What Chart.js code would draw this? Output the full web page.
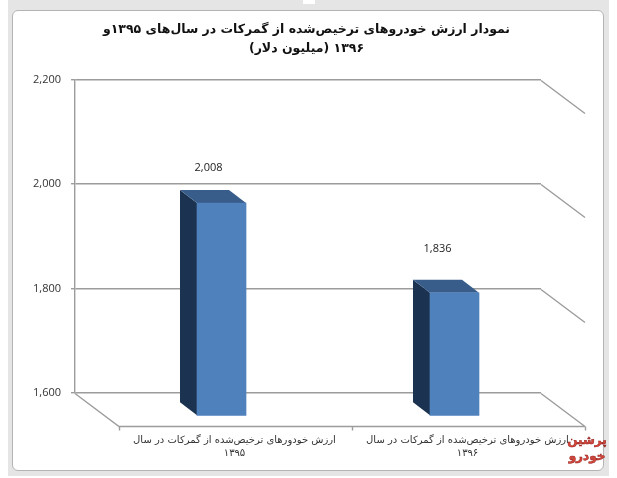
<!DOCTYPE html>
<html lang="fa">
<head>
<meta charset="utf-8">
<title>نمودار ارزش خودروها</title>
<script src="https://cdn.jsdelivr.net/npm/chart.js@4/dist/chart.umd.min.js"></script>
<style>
  html,body{margin:0;padding:0;background:#fff;}
  .stage{position:relative;width:617px;height:478px;overflow:hidden;}
  .back{position:absolute;left:8px;top:0;width:601px;height:476px;background:#e5e5e5;}
  .notch{position:absolute;left:303px;top:0;width:12px;height:4px;background:#fff;}
  .panel{position:absolute;left:12px;top:10px;width:590px;height:459px;background:#fff;border:1px solid #b4b4b4;border-radius:6px;}
  canvas{position:absolute;left:0;top:0;}
</style>
</head>
<body>
<div class="stage">
  <div class="back"></div>
  <div class="notch"></div>
  <div class="panel"></div>
  <canvas id="chart" width="617" height="478" dir="rtl"></canvas>
</div>
<script>
const categories = [
  ['ارزش خودورهای ترخیص‌شده از گمرکات در سال', '۱۳۹۵'],
  ['ارزش خودروهای ترخیص‌شده از گمرکات در سال', '۱۳۹۶']
];
const values = [2008, 1836];
const valueLabels = ['2,008', '1,836'];
const yMin = 1600, yMax = 2200, yStep = 200;
const titleLines = [
  'نمودار ارزش خودروهای ترخیص‌شده از گمرکات در سال‌های ۱۳۹۵و',
  '۱۳۹۶ (میلیون دلار)'
];
const watermark = ['پرشین', 'خودرو'];

const LINE = '#9c9c9c';
const LINE_W = 1.4;
const WALL = {dx: 44, dy: 33};      // back wall -> front of the floor
const FRONT = {dx: 30, dy: 23};     // back wall -> front face of a bar
const DEPTH = {dx: 17, dy: 13};     // bar depth
const labelShift = [{x: -13, y: -35}, {x: -17, y: -44}];

function poly(c, pts, fill){
  c.beginPath();
  pts.forEach((p,i)=> i ? c.lineTo(p[0],p[1]) : c.moveTo(p[0],p[1]));
  c.closePath();
  c.fillStyle = fill;
  c.fill();
}

const fake3d = {
  id: 'fake3d',
  // side walls and floor of the old excel style 3d chart
  beforeDatasetsDraw(chart){
    const c = chart.ctx, a = chart.chartArea, y = chart.scales.y;
    c.save();
    c.strokeStyle = LINE;
    c.lineWidth = LINE_W;
    c.beginPath();
    y.ticks.forEach(t=>{
      const py = Math.round(y.getPixelForValue(t.value)) + .5;
      c.moveTo(a.right, py);
      c.lineTo(a.right + WALL.dx, py + WALL.dy);
    });
    const by = Math.round(a.bottom) + .5;
    c.moveTo(a.left, by);
    c.lineTo(a.left + WALL.dx, by + WALL.dy);
    c.lineTo(a.right + WALL.dx, by + WALL.dy);
    // ticks on the front edge of the floor
    const fl = a.left + WALL.dx, fr = a.right + WALL.dx;
    [fl, (fl+fr)/2, fr].forEach(x=>{
      c.moveTo(Math.round(x)+.5, by + WALL.dy);
      c.lineTo(Math.round(x)+.5, by + WALL.dy + 4);
    });
    c.stroke();
    c.restore();
  },
  beforeDatasetDraw(chart, args){
    const c = chart.ctx;
    args.meta.data.forEach(el=>{
      const l = el.x - el.width/2 + FRONT.dx, r = l + el.width;
      const t = el.y + FRONT.dy, b = el.base + FRONT.dy;
      poly(c, [[l,t],[l-DEPTH.dx,t-DEPTH.dy],[l-DEPTH.dx,b-DEPTH.dy],[l,b]], '#1b3350');
      poly(c, [[l,t],[l-DEPTH.dx,t-DEPTH.dy],[r-DEPTH.dx,t-DEPTH.dy],[r,t]], '#385d8a');
    });
    c.save();
    c.translate(FRONT.dx, FRONT.dy);
  },
  afterDatasetDraw(chart){
    chart.ctx.restore();
  },
  afterDraw(chart){
    const c = chart.ctx;
    c.save();
    c.direction = 'ltr';
    c.textAlign = 'center';
    c.textBaseline = 'middle';
    c.fillStyle = '#222';
    c.font = '11px "Open Sans"';
    chart.getDatasetMeta(0).data.forEach((el,i)=>{
      c.fillText(valueLabels[i], el.x + FRONT.dx + labelShift[i].x, el.y + FRONT.dy + labelShift[i].y);
    });
    // watermark, bottom right corner
    c.direction = 'rtl';
    c.font = 'bold 12px "DejaVu Sans"';
    c.strokeStyle = '#8e1b1b';
    c.fillStyle = '#d8483a';
    c.lineWidth = .5;
    watermark.forEach((w,i)=>{
      const x = 587, y = 441 + i*16;
      c.fillText(w, x, y);
      c.strokeText(w, x, y);
    });
    c.restore();
  }
};

new Chart(document.getElementById('chart'), {
  type: 'bar',
  data: {
    labels: categories,
    datasets: [{
      data: values,
      base: yMin,
      backgroundColor: '#4f81bd',
      barThickness: 49,
      clip: false
    }]
  },
  plugins: [fake3d],
  options: {
    responsive: false,
    animation: false,
    layout: {padding: {left: 0, right: 4, top: 0, bottom: 0}},
    plugins: {
      legend: {display: false},
      tooltip: {enabled: false},
      title: {
        display: true,
        text: titleLines,
        color: '#111',
        font: {family: '"DejaVu Sans"', size: 12.5, weight: 'bold', lineHeight: 1.55},
        padding: {top: 20, bottom: 21}
      }
    },
    scales: {
      x: {
        afterFit(s){ s.height = 85; },
        grid: {display: false},
        border: {display: false},
        ticks: {
          color: '#333',
          font: {family: '"DejaVu Sans"', size: 10, lineHeight: 1.3},
          padding: 33,
          labelOffset: 43,
          maxRotation: 0,
          autoSkip: false
        }
      },
      y: {
        min: yMin,
        max: yMax,
        afterFit(s){ s.width = 75; },
        grid: {color: LINE, lineWidth: LINE_W, tickLength: 4, tickColor: LINE},
        border: {color: LINE, width: LINE_W},
        ticks: {
          stepSize: yStep,
          color: '#333',
          padding: 10,
          font: {family: '"Open Sans"', size: 11},
          callback: v => v.toLocaleString('en-US')
        }
      },
      // empty axis: holds the room for the floor on the right, so the title stays centred on the panel
      y2: {
        position: 'right',
        min: yMin,
        max: yMax,
        afterFit(s){ s.width = 72; },
        grid: {display: false},
        border: {display: false},
        ticks: {display: false}
      }
    }
  }
});
</script>
</body>
</html>
